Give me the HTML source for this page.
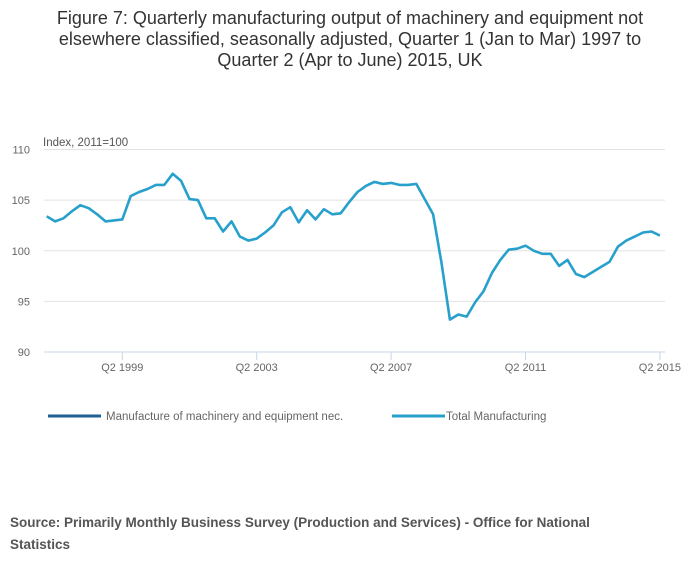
<!DOCTYPE html>
<html><head><meta charset="utf-8"><style>
body{margin:0;background:#fff;width:700px;height:574px;overflow:hidden;font-family:"Liberation Sans",sans-serif}
#title{position:absolute;left:45px;top:8px;width:610px;text-align:center;font-size:18px;line-height:21px;color:#333}
#source{position:absolute;left:10px;top:512px;width:620px;font-size:13.5px;line-height:22px;font-weight:bold;color:#555}
svg{position:absolute;left:0;top:0}
</style></head><body>
<div id="title">Figure 7: Quarterly manufacturing output of machinery and equipment not elsewhere classified, seasonally adjusted, Quarter 1 (Jan to Mar) 1997 to Quarter 2 (Apr to June) 2015, UK</div>
<svg id="chart" width="700" height="574"></svg>
<div id="source">Source: Primarily Monthly Business Survey (Production and Services) - Office for National Statistics</div>
<script>
const totalManufacturing=[103.4,102.9,103.2,103.9,104.5,104.2,103.6,102.9,103.0,103.1,105.4,105.8,106.1,106.5,106.5,107.6,106.9,105.1,105.0,103.2,103.2,101.9,102.9,101.4,101.0,101.2,101.8,102.5,103.8,104.3,102.8,104.0,103.1,104.1,103.6,103.7,104.8,105.8,106.4,106.8,106.6,106.7,106.5,106.5,106.6,105.1,103.6,98.8,93.2,93.7,93.5,94.9,96.0,97.8,99.1,100.1,100.2,100.5,100.0,99.7,99.7,98.5,99.1,97.7,97.4,97.9,98.4,98.9,100.4,101.0,101.4,101.8,101.9,101.5];
const machinery=[];
const yTicks=[90,95,100,105,110];
const xTickIndex=[9,25,41,57,73];
const xTickLabels=["Q2 1999","Q2 2003","Q2 2007","Q2 2011","Q2 2015"];
const NS="http://www.w3.org/2000/svg";
const svg=document.getElementById('chart');
const x0=46.7,dx=8.4,yTop=149.5,yBot=352,vMin=90,vMax=110;
function xs(i){return x0+dx*i;}
function ys(v){return yBot-(v-vMin)/(vMax-vMin)*(yBot-yTop);}
function mk(t,a){const e=document.createElementNS(NS,t);for(const k in a)e.setAttribute(k,a[k]);svg.appendChild(e);return e;}
yTicks.forEach(v=>{
 if(v>vMin){const g=mk('line',{x1:44,x2:665,y1:ys(v),y2:ys(v),stroke:'#e3e3e3','stroke-width':1});
 
 }
 const t=mk('text',{x:30,y:ys(v)+4,'font-size':11,fill:'#666','text-anchor':'end','font-family':'Liberation Sans, sans-serif'});
 t.textContent=v;
 
 
});
const yt=mk('text',{x:43,y:146,'font-size':11.5,fill:'#555','font-family':'Liberation Sans, sans-serif'});
yt.textContent='Index, 2011=100';


const ax=mk('line',{x1:44,x2:665,y1:yBot,y2:yBot,stroke:'#c8d6e8','stroke-width':1});


xTickIndex.forEach((ix,k)=>{
 const tk=mk('line',{x1:xs(ix),x2:xs(ix),y1:yBot,y2:yBot+8,stroke:'#c8d6e8','stroke-width':1});
 
 
 const t=mk('text',{x:xs(ix),y:yBot+19,'font-size':11,fill:'#666','text-anchor':'middle','font-family':'Liberation Sans, sans-serif'});
 t.textContent=xTickLabels[k];
 
 
});
function line(data,color,name){
 if(!data.length)return;
 const p=mk('path',{d:data.map((v,i)=>(i?'L':'M')+xs(i).toFixed(1)+','+ys(v).toFixed(1)).join(''),fill:'none',stroke:color,'stroke-width':2.6,'stroke-linejoin':'round'});
 
 
}
line(machinery,'#206095','machinery-line');
line(totalManufacturing,'#27a0cc','total-manufacturing-line');
[['Manufacture of machinery and equipment nec.','#206095',48,106,'legend-entry-machinery'],['Total Manufacturing','#27a0cc',392,446,'legend-entry-total']].forEach(l=>{
 const s=mk('line',{x1:l[2],x2:l[2]+53,y1:416,y2:416,stroke:l[1],'stroke-width':3});
 
 
 const t=mk('text',{x:l[3],y:420,'font-size':11.5,fill:'#666','font-family':'Liberation Sans, sans-serif'});
 t.textContent=l[0];
 
 
});
</script>
</body></html>
